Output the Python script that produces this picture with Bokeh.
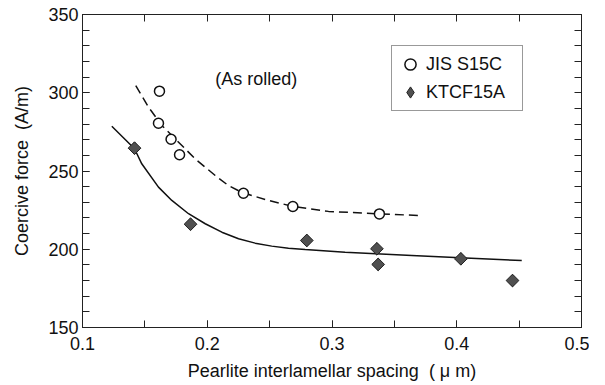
import math
import numpy as np
from bokeh.plotting import figure
from bokeh.models import (Range1d, LinearAxis, SingleIntervalTicker, FixedTicker,
                          Legend, LegendItem, Label)
from bokeh.embed import file_html
from bokeh.resources import INLINE

# Measured points
jis_x = [0.1617, 0.1609, 0.1710, 0.1778, 0.2290, 0.2686, 0.3380]
jis_y = [301.0, 280.5, 270.3, 260.4, 235.8, 227.3, 222.6]
ktc_x = [0.1417, 0.1866, 0.2798, 0.3360, 0.3370, 0.4033, 0.4447]
ktc_y = [264.6, 216.0, 205.6, 200.3, 190.3, 193.9, 180.0]

# Fitted curves
jis_fit_x = [0.1427, 0.1529, 0.1636, 0.1770, 0.1903, 0.2064, 0.2170, 0.2277,
             0.2464, 0.2678, 0.2972, 0.3373, 0.3693]
jis_fit_y = [304.6, 290.8, 279.1, 268.4, 257.8, 247.1, 240.7, 236.3,
             231.8, 227.5, 224.2, 222.6, 221.6]
ktc_fit_x = [0.1235, 0.1326, 0.1417, 0.1475, 0.1609, 0.1716, 0.1850, 0.1984,
             0.2117, 0.2251, 0.2384, 0.2517, 0.2651, 0.2785, 0.3105, 0.3640,
             0.4027, 0.4521]
ktc_fit_y = [278.6, 271.4, 264.2, 254.6, 239.7, 231.2, 222.7, 216.3,
             210.9, 206.7, 203.9, 202.0, 200.7, 199.8, 198.1, 196.0,
             194.5, 192.8]

series_names = ["JIS S15C", "KTCF15A"]
annotation = "(As rolled)"
x_label = "Pearlite interlamellar spacing\u00a0\u00a0( \u03bc m)"
y_label = "Coercive force\u00a0\u00a0(A/m)"

FONT = "Liberation Sans"
FS = "18px"
INK = "#111111"
LINE = "#222222"
DIAMOND_FILL = "#505050"

p = figure(frame_width=499, frame_height=313,
           x_range=Range1d(0.1, 0.5), y_range=Range1d(150, 350),
           output_backend="svg", toolbar_location=None,
           x_axis_location=None, y_axis_location=None,
           min_border_left=82, min_border_right=8, min_border_top=14,
           min_border_bottom=30)
p.xgrid.visible = False
p.ygrid.visible = False
p.outline_line_color = LINE
p.background_fill_color = "white"
p.border_fill_color = "white"


def style_axis(ax):
    ax.axis_line_color = LINE
    ax.axis_line_width = 1
    ax.major_tick_in = 7
    ax.major_tick_out = 0
    ax.minor_tick_in = 7
    ax.minor_tick_out = 0
    ax.major_tick_line_color = LINE
    ax.minor_tick_line_color = LINE
    ax.major_label_text_font = FONT
    ax.major_label_text_font_size = FS
    ax.major_label_text_color = INK
    ax.axis_label_text_font = FONT
    ax.axis_label_text_font_size = FS
    ax.axis_label_text_font_style = "normal"
    ax.axis_label_text_color = INK
    return ax


bottom = style_axis(LinearAxis(ticker=SingleIntervalTicker(interval=0.1, num_minor_ticks=2),
                               axis_label=x_label))
bottom.major_label_standoff = 9
bottom.axis_label_standoff = 8
left = style_axis(LinearAxis(ticker=SingleIntervalTicker(interval=50, num_minor_ticks=5),
                             axis_label=y_label))
left.major_label_standoff = 4
left.axis_label_standoff = 13

# mirror axes: ticks only, no labels
top_ticks = [float(v) for v in np.arange(0.1, 0.5001, 0.05)]
right_ticks = [float(v) for v in np.arange(150, 350.1, 10)]
top = style_axis(LinearAxis(ticker=FixedTicker(ticks=[], minor_ticks=top_ticks)))
right = style_axis(LinearAxis(ticker=FixedTicker(ticks=[], minor_ticks=right_ticks)))

p.add_layout(bottom, "below")
p.add_layout(left, "left")
p.add_layout(top, "above")
p.add_layout(right, "right")

p.line(jis_fit_x, jis_fit_y, line_color=INK, line_width=1.5, line_dash="9 5")
p.line(ktc_fit_x, ktc_fit_y, line_color=INK, line_width=1.5)

r_jis = p.scatter(jis_x, jis_y, marker="circle", size=10,
                  fill_color="white", line_color=INK, line_width=1.5)
# diamond glyph (used for the legend), fully covered by the rotated squares
r_ktc_leg = p.scatter(ktc_x, ktc_y, marker="diamond", size=12,
                      fill_color=DIAMOND_FILL, line_color=LINE, line_width=1)
r_ktc = p.scatter(ktc_x, ktc_y, marker="square", size=9, angle=math.pi / 4,
                  fill_color=DIAMOND_FILL, line_color=LINE, line_width=1)

p.add_layout(Label(x=0.2064, y=309, text=annotation, text_font=FONT,
                   text_font_size=FS, text_baseline="middle", text_color=INK))

legend = Legend(items=[LegendItem(label=series_names[0], renderers=[r_jis]),
                       LegendItem(label=series_names[1], renderers=[r_ktc_leg])],
                location=(309, 216), orientation="vertical",
                padding=4, spacing=-1, margin=0,
                glyph_width=28, glyph_height=28, label_height=28,
                label_standoff=2, label_width=92,
                label_text_font=FONT, label_text_font_size=FS,
                label_text_color=INK,
                border_line_color="#333333", border_line_width=1,
                background_fill_color="white", background_fill_alpha=1)
p.add_layout(legend, "center")

open("out.html", "w").write(file_html(p, INLINE))
